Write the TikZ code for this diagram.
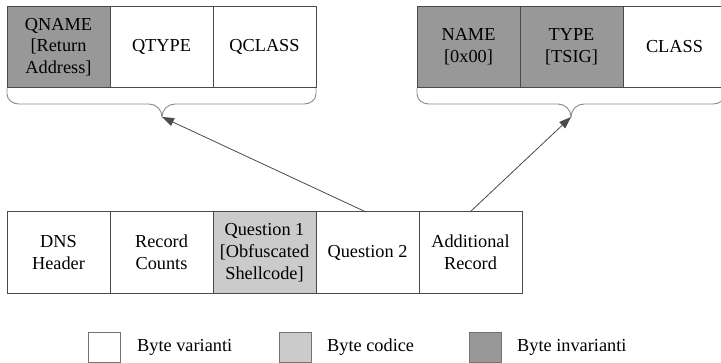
\documentclass[tikz,border=0pt]{standalone}
\usepackage{fontspec}
\setmainfont{Liberation Serif}
\usetikzlibrary{arrows.meta}
\definecolor{invfill}{HTML}{989898}
\definecolor{codefill}{HTML}{CBCBCB}
\definecolor{edge}{HTML}{4A4A4A}
\definecolor{bracecol}{HTML}{8A8A8A}
\begin{document}
\begin{tikzpicture}[x=1pt,y=-1pt,
  field/.style={draw=edge,line width=0.8pt,rectangle,inner sep=0pt,
    minimum width=103pt,minimum height=81.5pt,align=center,
    font=\fontsize{18.3}{21.7}\selectfont},
  invariant/.style={field,fill=invfill},
  codebytes/.style={field,fill=codefill},
  brace/.style={draw=bracecol,line width=0.9pt},
  conn/.style={draw=edge,line width=0.8pt,-{Triangle[length=12pt,width=8.5pt]}},
  keybox/.style={draw=black!55,line width=0.8pt,rectangle,inner sep=0pt,
    minimum width=32pt,minimum height=30pt},
  keytext/.style={anchor=west,inner sep=0pt,font=\fontsize{18.3}{21.7}\selectfont}]
\useasboundingbox (0,0) rectangle (721,363);

% question section fields
\node[invariant] (qname)  at (58.5,47) {QNAME\\{[}Return\\Address{]}};
\node[field]     (qtype)  at (161.5,47) {QTYPE};
\node[field]     (qclass) at (264.5,47) {QCLASS};

% additional record fields
\node[invariant] (name)  at (468.5,47) {NAME\\{[}0x00{]}};
\node[invariant] (type)  at (571.5,47) {TYPE\\{[}TSIG{]}};
\node[field]     (class) at (674.5,47) {CLASS};

% message layout
\node[field]     (hdr)   at (58.5,252.5)  {DNS\\Header};
\node[field]     (cnt)   at (161.5,252.5) {Record\\Counts};
\node[codebytes] (q1)    at (264.5,252.5) {Question 1\\{[}Obfuscated\\Shellcode{]}};
\node[field]     (q2)    at (367.5,252.5) {Question 2};
\node[field]     (addrec) at (470.5,252.5) {Additional\\Record};

% braces under the two field groups
\coordinate (tipL) at (162,117);
\coordinate (tipR) at (571,117);
\draw[brace] (7,88) -- (7,94) to[out=-90,in=180] (19,104) -- (149,104)
  to[out=0,in=90] (tipL) to[out=90,in=180] (175,104) -- (304,104)
  to[out=0,in=-90] (316,94) -- (316,88);
\draw[brace] (417,88) -- (417,94) to[out=-90,in=180] (429,104) -- (558,104)
  to[out=0,in=90] (tipR) to[out=90,in=180] (584,104) -- (713,104)
  to[out=0,in=-90] (725,94) -- (725,88);

% connectors from the message to the expanded groups
\coordinate (fromQ2)  at (366,212);
\coordinate (fromAdd) at (470,212);
\draw[conn] (fromQ2) -- (tipL);
\draw[conn] (fromAdd) -- (tipR);

% key
\node[keybox] (k1) at (104.5,347) {};
\node[keytext] (t1) at (137,347) {Byte varianti};
\node[keybox,fill=codefill] (k2) at (295,347) {};
\node[keytext] (t2) at (327,347) {Byte codice};
\node[keybox,fill=invfill] (k3) at (485,347) {};
\node[keytext] (t3) at (517,347) {Byte invarianti};
\end{tikzpicture}
\end{document}
